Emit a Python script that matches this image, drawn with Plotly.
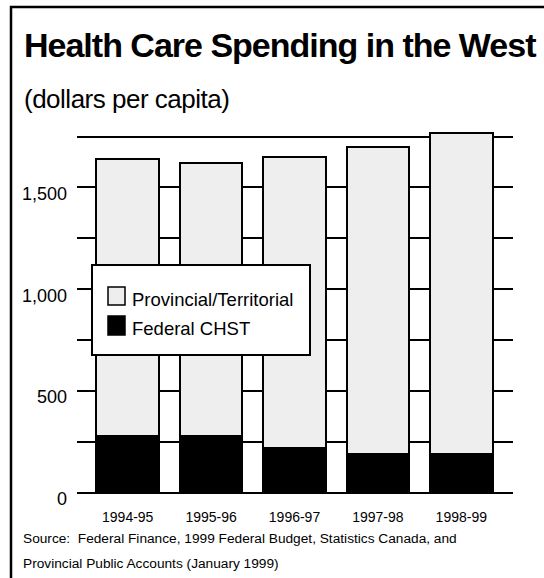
import plotly.graph_objects as go

# Fiscal years shown on the category axis
years = ["1994-95", "1995-96", "1996-97", "1997-98", "1998-99"]

# Per-capita health spending in the western provinces (dollars)
federal_chst = [280, 280, 220, 190, 190]
provincial_territorial = [1360, 1340, 1430, 1510, 1580]

series_names = ["Provincial/Territorial", "Federal CHST"]

# Value axis ticks: grid every 250, labels every 500
y_ticks = [0, 250, 500, 750, 1000, 1250, 1500, 1750]
y_tick_text = ["0", "", "500", "", "1,000", "", "1,500", ""]

W, H = 544, 578
FONT = "Liberation Sans, Arial, sans-serif"
GRAY = "#eeeeee"


def xp(px):
    return px / W


def yp(py):
    return 1 - py / H


def label(text, x, y, size, anchor="left"):
    return dict(text=text, x=xp(x), y=yp(y), xref="paper", yref="paper",
                xanchor=anchor, yanchor="middle", showarrow=False,
                font=dict(family=FONT, size=size, color="black"))


def tight(text, spacing):
    return f"<span style='letter-spacing:{spacing}px'>{text}</span>"


fig = go.Figure()

fig.add_trace(go.Bar(
    x=years, y=federal_chst, name=series_names[1],
    marker=dict(color="black", line=dict(color="black", width=2)),
    showlegend=False,
))
fig.add_trace(go.Bar(
    x=years, y=provincial_territorial, name=series_names[0],
    marker=dict(color=GRAY, line=dict(color="black", width=2)),
    showlegend=False,
))

shapes = [
    # outer frame
    dict(type="rect", xref="paper", yref="paper",
         x0=xp(11), x1=xp(600), y0=yp(640), y1=yp(7),
         line=dict(color="black", width=2.5), fillcolor="rgba(0,0,0,0)",
         layer="above"),
    # legend box
    dict(type="rect", xref="paper", yref="paper",
         x0=xp(92), x1=xp(310), y0=yp(355), y1=yp(265),
         line=dict(color="black", width=2), fillcolor="white", layer="above"),
    # legend swatches
    dict(type="rect", xref="paper", yref="paper",
         x0=xp(108), x1=xp(125), y0=yp(305), y1=yp(287),
         line=dict(color="black", width=1.5), fillcolor=GRAY, layer="above"),
    dict(type="rect", xref="paper", yref="paper",
         x0=xp(108), x1=xp(125), y0=yp(335), y1=yp(316),
         line=dict(color="black", width=1.5), fillcolor="black", layer="above"),
]

annotations = [
    label("<b>" + tight("Health Care Spending in the West", -1) + "</b>", 22, 45, 34),
    label(tight("(dollars per capita)", -0.5), 22, 99, 26),
    label(series_names[0], 130, 299.5, 18.5),
    label(series_names[1], 130, 328, 18.5),
    label("Source:  Federal Finance, 1999 Federal Budget, Statistics Canada, and",
          20.5, 538.5, 13.7),
    label("Provincial Public Accounts (January 1999)", 20.5, 563.5, 13.7),
]

fig.update_layout(
    width=W, height=H,
    autosize=False,
    margin=dict(l=0, r=0, t=0, b=0, pad=0, autoexpand=False),
    paper_bgcolor="white", plot_bgcolor="white",
    barmode="stack", bargap=0.25,
    showlegend=False,
    font=dict(family=FONT, color="black"),
    xaxis=dict(
        domain=[xp(77), xp(513)],
        range=[-0.608, 4.62],
        automargin=False,
        showgrid=False, zeroline=False, showline=False, ticks="",
        tickfont=dict(family=FONT, size=14, color="black"),
        ticklabelstandoff=14,
        fixedrange=True,
    ),
    yaxis=dict(
        domain=[yp(492.7), yp(126.4)],
        range=[0, 1800],
        automargin=False,
        tickvals=y_ticks, ticktext=y_tick_text,
        showgrid=True, gridcolor="black", gridwidth=2,
        zeroline=True, zerolinecolor="black", zerolinewidth=2,
        showline=False, ticks="",
        tickfont=dict(family=FONT, size=18, color="black"),
        ticklabelstandoff=9, ticklabelshift=6,
        fixedrange=True,
    ),
    shapes=shapes,
    annotations=annotations,
)

fig.write_html("out.html")
